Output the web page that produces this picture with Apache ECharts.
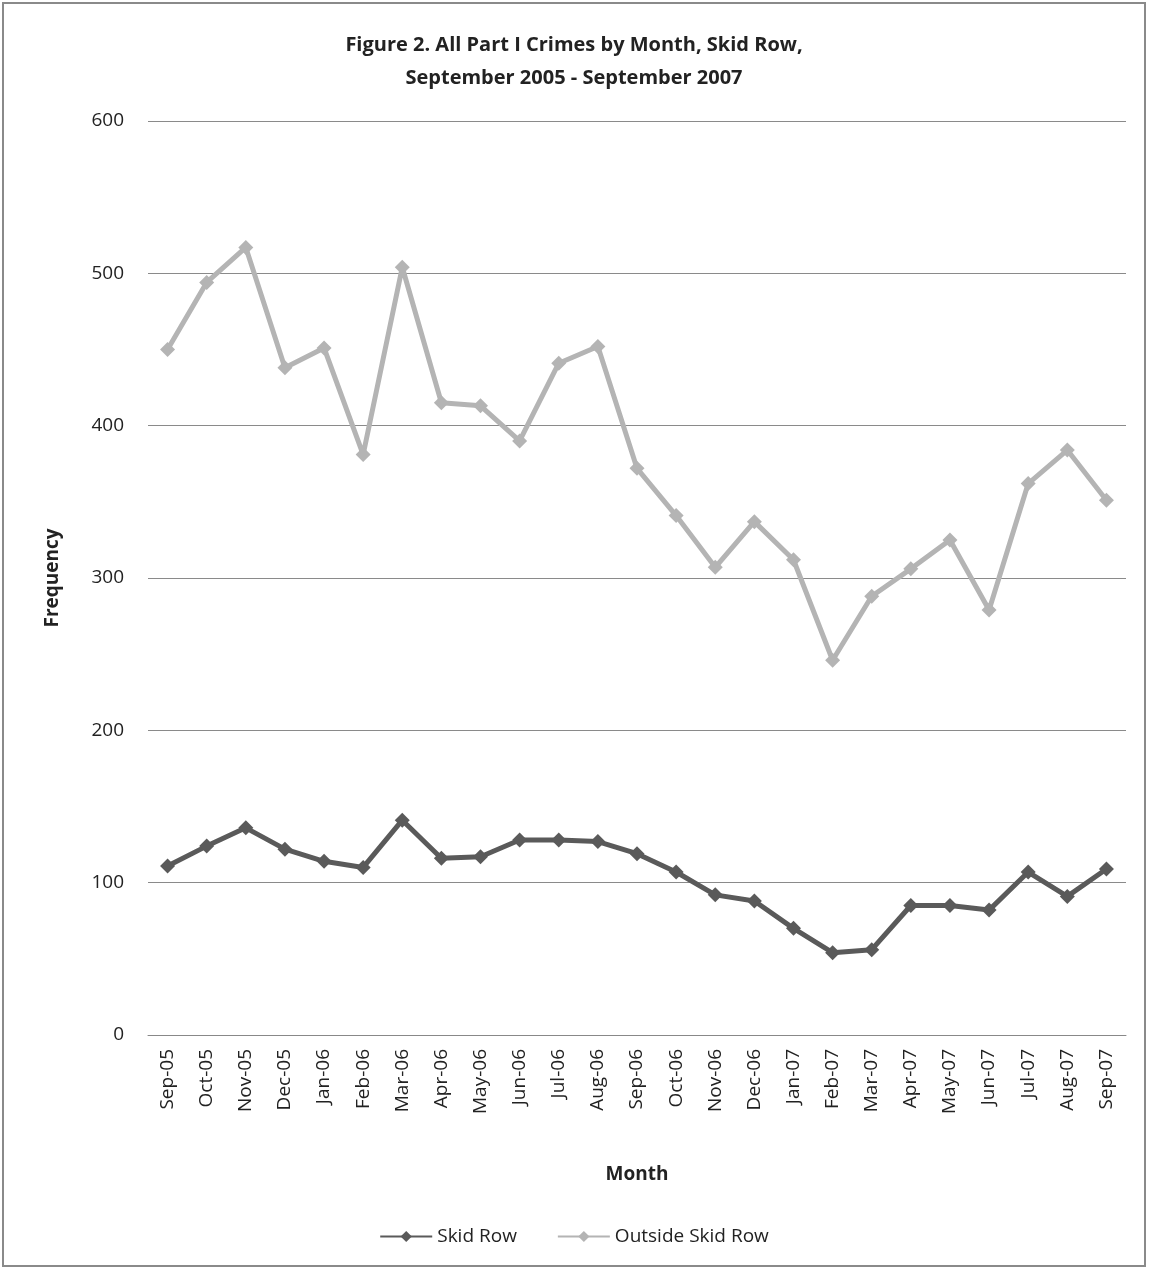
<!DOCTYPE html>
<html>
<head>
<meta charset="utf-8">
<script src="https://cdn.jsdelivr.net/npm/echarts@6/dist/echarts.min.js"></script>
<style>
    html, body { margin: 0; padding: 0; background: #fff; }
    #chart { position: absolute; left: 2px; top: 2px; width: 1144px; height: 1265px; border: 2px solid #8a8a8a; box-sizing: border-box; }
</style>
</head>
<body>
<div id="chart"></div>
<script>
const months = [
    "Sep-05", "Oct-05", "Nov-05", "Dec-05", "Jan-06", "Feb-06", "Mar-06", "Apr-06", "May-06",
    "Jun-06", "Jul-06", "Aug-06", "Sep-06", "Oct-06", "Nov-06", "Dec-06", "Jan-07", "Feb-07",
    "Mar-07", "Apr-07", "May-07", "Jun-07", "Jul-07", "Aug-07", "Sep-07"
];
const skidRow = [111, 124, 136, 122, 114, 110, 141, 116, 117, 128, 128, 127, 119, 107, 92, 88, 70, 54, 56, 85, 85, 82, 107, 91, 109];
const outsideSkidRow = [450, 494, 517, 438, 451, 381, 504, 415, 413, 390, 441, 452, 372, 341, 307, 337, 312, 246, 288, 306, 325, 279, 362, 384, 351];

const font = "'Open Sans', 'Liberation Sans', sans-serif";
const chart = echarts.init(document.getElementById("chart"));

// 折线图
chart.setOption({
    animation: false,
    title: {
        text: "Figure 2. All Part I Crimes by Month, Skid Row,\nSeptember 2005 - September 2007",
        left: "center",
        top: 20,
        textStyle: {
            fontFamily: font,
            fontSize: 20,
            fontWeight: "bold",
            color: "#222",
            lineHeight: 33
        }
    },
    legend: {
        bottom: 14,
        left: "center",
        itemGap: 40,
        itemWidth: 52,
        itemHeight: 14,
        textStyle: { fontFamily: font, fontSize: 19, color: "#222" },
        data: ["Skid Row", "Outside Skid Row"]
    },
    grid: { left: 144, right: 18, top: 117, bottom: 230 },
    xAxis: {
        type: "category",
        boundaryGap: true,
        data: months,
        name: "Month",
        nameLocation: "middle",
        nameGap: 130,
        nameTextStyle: { fontFamily: font, fontSize: 19, fontWeight: "bold", color: "#222" },
        axisLine: { lineStyle: { color: "#888" } },
        axisTick: { show: false },
        axisLabel: { rotate: 90, fontFamily: font, fontSize: 19, color: "#222", margin: 14, interval: 0 }
    },
    yAxis: {
        type: "value",
        min: 0,
        max: 600,
        interval: 100,
        name: "Frequency",
        nameLocation: "middle",
        nameGap: 86,
        nameTextStyle: { fontFamily: font, fontSize: 19, fontWeight: "bold", color: "#222" },
        axisLine: { show: false },
        axisTick: { show: false },
        axisLabel: { fontFamily: font, fontSize: 19, color: "#222", margin: 24 },
        splitLine: { lineStyle: { color: "#8a8a8a", width: 1 } }
    },
    series: [
        {
            name: "Skid Row",
            type: "line",
            data: skidRow,
            symbol: "diamond",
            symbolSize: 15,
            color: "#5a5a5a",
            lineStyle: { width: 5, color: "#5a5a5a" },
            itemStyle: { color: "#5a5a5a" }
        },
        {
            name: "Outside Skid Row",
            type: "line",
            data: outsideSkidRow,
            symbol: "diamond",
            symbolSize: 15,
            color: "#b4b4b4",
            lineStyle: { width: 5, color: "#b4b4b4" },
            itemStyle: { color: "#b4b4b4" }
        }
    ]
});
</script>
</body>
</html>
